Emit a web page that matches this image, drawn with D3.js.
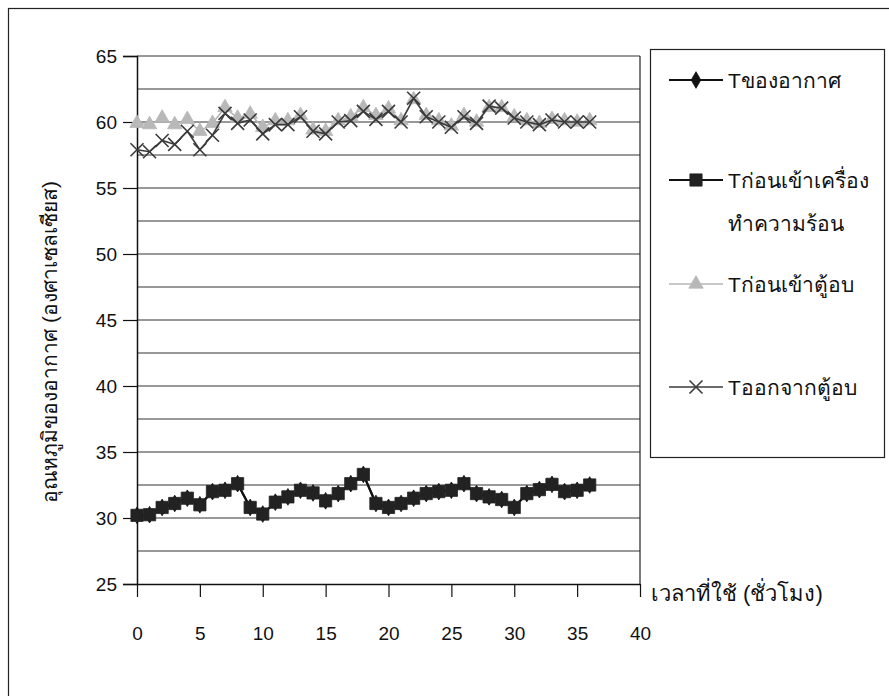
<!DOCTYPE html>
<html>
<head>
<meta charset="utf-8">
<script src="https://cdn.jsdelivr.net/npm/d3@7"></script>
<style>
  body { margin: 0; background: #fff; }
  svg { font-family: "Liberation Sans", Arial, "Noto Sans", sans-serif; }
</style>
</head>
<body>
<div id="chart"></div>
<script>
//Chart data
var hours = [0, 1, 2, 3, 4, 5, 6, 7, 8, 9, 10, 11, 12, 13, 14, 15, 16, 17, 18,
  19, 20, 21, 22, 23, 24, 25, 26, 27, 28, 29, 30, 31, 32, 33, 34, 35, 36];
var tAir = [30.2, 30.25, 30.8, 31.1, 31.5, 31.0, 32.0, 32.1, 32.6, 30.8, 30.3, 31.2, 31.6, 32.1, 31.9, 31.3, 31.85, 32.6, 33.3,
  31.1, 30.8, 31.1, 31.5, 31.85, 32.0, 32.1, 32.6, 31.85, 31.6, 31.4, 30.8, 31.85, 32.15, 32.55, 32.0, 32.1, 32.5];
var tHeaterIn = [30.2, 30.25, 30.8, 31.1, 31.5, 31.0, 32.0, 32.1, 32.6, 30.8, 30.3, 31.2, 31.6, 32.1, 31.9, 31.3, 31.85, 32.6, 33.3,
  31.1, 30.8, 31.1, 31.5, 31.85, 32.0, 32.1, 32.6, 31.85, 31.6, 31.4, 30.8, 31.85, 32.15, 32.55, 32.0, 32.1, 32.5];
var tOvenIn = [59.9, 59.8, 60.3, 59.8, 60.2, 59.3, 59.9, 61.1, 60.3, 60.6, 59.6, 60.1, 60.1, 60.5, 59.4, 59.3, 60.1, 60.4, 61.1, 60.5, 61.0,
  60.1, 61.7, 60.5, 60.1, 59.7, 60.5, 60.0, 61.1, 61.1, 60.4, 60.1, 59.9, 60.2, 60.1, 60.0, 60.1];
var tOvenOut = [57.9, 57.75, 58.6, 58.3, 59.3, 57.9, 59.0, 60.65, 59.9, 60.15, 59.1, 59.8, 59.8, 60.4, 59.3, 59.1, 60.0, 60.1, 60.8, 60.2, 60.8,
  60.0, 61.8, 60.4, 60.0, 59.6, 60.4, 59.9, 61.2, 61.05, 60.3, 60.0, 59.8, 60.15, 60.0, 60.0, 60.0];
var seriesNames = ["Tของอากาศ", "Tก่อนเข้าเครื่อง", "Tก่อนเข้าตู้อบ", "Tออกจากตู้อบ"];
var xTicks = [0, 5, 10, 15, 20, 25, 30, 35, 40];
var yTicks = [25, 30, 35, 40, 45, 50, 55, 60, 65];
var yGrid = [27.5, 30, 32.5, 35, 37.5, 40, 42.5, 45, 47.5, 50, 52.5, 55, 57.5, 60, 62.5, 65];

function init() {
  //Declare variables
  var w = 889;
  var h = 696;
  var left = 137, right = 640, top = 56, bottom = 584;

  var xScale = d3.scaleLinear()
    .domain([0, 40])
    .range([left, right]);

  var yScale = d3.scaleLinear()
    .domain([25, 65])
    .range([bottom, top]);

  var svg = d3.select("#chart")
    .append("svg")
    .attr("width", w)
    .attr("height", h);

  //outer frame
  svg.append("rect")
    .attr("x", 8.5).attr("y", 8.5)
    .attr("width", 920).attr("height", 720)
    .attr("fill", "none")
    .attr("stroke", "#222")
    .attr("stroke-width", 1.2);

  //gridlines
  svg.selectAll(".grid")
    .data(yGrid)
    .enter()
    .append("line")
    .attr("class", "grid")
    .attr("x1", left).attr("x2", right)
    .attr("y1", function (d) { return yScale(d); })
    .attr("y2", function (d) { return yScale(d); })
    .attr("stroke", "#333")
    .attr("stroke-width", 1);

  //right border of plot
  svg.append("line")
    .attr("x1", right).attr("x2", right)
    .attr("y1", top).attr("y2", bottom)
    .attr("stroke", "#222")
    .attr("stroke-width", 1.2);

  //y axis
  var yAxis = d3.axisLeft(yScale)
    .tickValues(yTicks)
    .tickSize(14)
    .tickPadding(6);

  var gy = svg.append("g")
    .attr("transform", "translate(" + left + ",0)")
    .call(yAxis);

  gy.select(".domain").attr("stroke", "#111").attr("stroke-width", 1.5);
  gy.selectAll(".tick line").attr("stroke", "#111").attr("stroke-width", 1.2);
  gy.selectAll(".tick text")
    .attr("font-size", "19px")
    .attr("fill", "#111")
    .style("font-family", "Liberation Sans, Arial, sans-serif");

  //x axis
  var xAxis = d3.axisBottom(xScale)
    .tickValues(xTicks)
    .tickSize(13)
    .tickSizeOuter(0)
    .tickPadding(30);

  var gx = svg.append("g")
    .attr("transform", "translate(0," + bottom + ")")
    .call(xAxis);

  gx.select(".domain").attr("stroke", "#111").attr("stroke-width", 1.5);
  gx.selectAll(".tick line").attr("stroke", "#111").attr("stroke-width", 1.2);
  gx.selectAll(".tick text")
    .attr("font-size", "19px")
    .attr("fill", "#111")
    .style("font-family", "Liberation Sans, Arial, sans-serif");

  //axis titles
  svg.append("text")
    .attr("x", 651)
    .attr("y", 601)
    .attr("font-size", "22px")
    .attr("fill", "#111")
    .text("เวลาที่ใช้ (ชั่วโมง)");

  svg.append("text")
    .attr("transform", "translate(57,342) rotate(-90)")
    .attr("text-anchor", "middle")
    .attr("font-size", "21px")
    .attr("fill", "#111")
    .text("อุณหภูมิของอากาศ (องศาเซลเซียส)");

  //series
  var series = [
    { values: tAir, color: "#111", width: 2, marker: "diamond", mfill: "#111" },
    { values: tHeaterIn, color: "#111", width: 2.2, marker: "square", mfill: "#222" },
    { values: tOvenIn, color: "#b4b4b4", width: 1.5, marker: "triangle", mfill: "#b8b8b8" },
    { values: tOvenOut, color: "#3a3a3a", width: 1.6, marker: "x", mfill: "none" }
  ];

  var line = d3.line()
    .x(function (d, i) { return xScale(hours[i]); })
    .y(function (d) { return yScale(d); });

  function markerPath(type) {
    if (type === "diamond") return d3.symbol().type(d3.symbolDiamond).size(80)();
    if (type === "square") return d3.symbol().type(d3.symbolSquare).size(150)();
    if (type === "triangle") return d3.symbol().type(d3.symbolTriangle).size(90)();
    return "M-6.5,-6.5L6.5,6.5M-6.5,6.5L6.5,-6.5";
  }

  function drawMarker(g, s) {
    var p = g.append("path")
      .attr("d", markerPath(s.marker));
    if (s.marker === "x") {
      p.attr("fill", "none").attr("stroke", s.color).attr("stroke-width", 1.6);
    } else {
      p.attr("fill", s.mfill).attr("stroke", s.mfill).attr("stroke-width", 0.8);
    }
  }

  series.forEach(function (s) {
    svg.append("path")
      .datum(s.values)
      .attr("d", line)
      .attr("fill", "none")
      .attr("stroke", s.color)
      .attr("stroke-width", s.width);

    var pts = svg.append("g")
      .selectAll("g")
      .data(s.values)
      .enter()
      .append("g")
      .attr("transform", function (d, i) {
        return "translate(" + xScale(hours[i]) + "," + yScale(d) + ")";
      });

    pts.each(function () { drawMarker(d3.select(this), s); });
  });

  //legend
  svg.append("rect")
    .attr("x", 650.5).attr("y", 49.5)
    .attr("width", 234).attr("height", 408)
    .attr("fill", "none")
    .attr("stroke", "#222")
    .attr("stroke-width", 1.2);

  var legendY = [80, 180, 284, 387];

  series.forEach(function (s, i) {
    var g = svg.append("g")
      .attr("transform", "translate(0," + legendY[i] + ")");

    g.append("line")
      .attr("x1", 669).attr("x2", 723)
      .attr("y1", 0).attr("y2", 0)
      .attr("stroke", s.color)
      .attr("stroke-width", s.width);

    var m = g.append("g").attr("transform", "translate(696,0)");
    drawMarker(m, s);

    g.append("text")
      .attr("x", 728)
      .attr("y", 8)
      .attr("font-size", "21px")
      .attr("fill", "#111")
      .text(seriesNames[i]);
  });

  svg.append("text")
    .attr("x", 728)
    .attr("y", 231)
    .attr("font-size", "21px")
    .attr("fill", "#111")
    .text("ทำความร้อน");
}

window.onload = init;
</script>
</body>
</html>
